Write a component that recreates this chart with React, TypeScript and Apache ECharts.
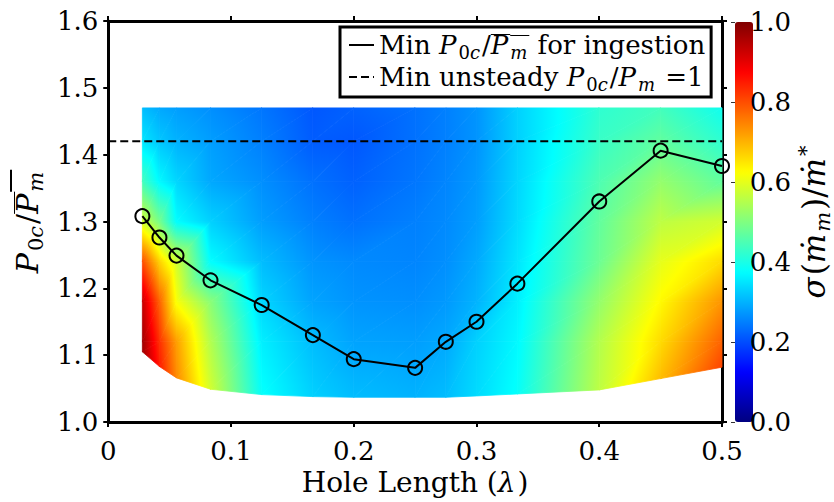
import React, { useEffect, useRef } from 'react';
import * as echarts from 'echarts';

// ---------- data ----------
const holeLength = [0.0278, 0.0417, 0.0556, 0.0833, 0.125, 0.1667, 0.2, 0.25, 0.275, 0.3, 0.3333, 0.4, 0.45, 0.5];
const minRatioIngestion = [1.308, 1.276, 1.249, 1.212, 1.175, 1.13, 1.094, 1.081, 1.12, 1.15, 1.207, 1.33, 1.406, 1.383];
const unsteadyThreshold = 1.42;
const xRange = [0, 0.5];

// lower edge of the measured field, per hole length
const fieldBottom = [1.105, 1.083, 1.066, 1.049, 1.041, 1.038, 1.037, 1.037, 1.037, 1.039, 1.042, 1.048, 1.065, 1.082];
// fixed P0c/Pm rows above the lower edge
const fieldRows = [1.12, 1.18, 1.24, 1.3, 1.36, 1.42, 1.47];
// sigma(m_dot)/m* ; rows: lower edge, then fieldRows ; columns: holeLength
const sigmaBottom = [0.97, 0.85, 0.74, 0.58, 0.38, 0.33, 0.31, 0.3, 0.31, 0.34, 0.38, 0.56, 0.69, 0.81];
const sigma112 = [0.97, 0.83, 0.72, 0.55, 0.36, 0.31, 0.285, 0.28, 0.29, 0.33, 0.37, 0.55, 0.66, 0.78];
const sigma118 = [0.93, 0.78, 0.62, 0.51, 0.335, 0.285, 0.27, 0.265, 0.275, 0.3, 0.36, 0.52, 0.63, 0.73];
const sigma124 = [0.8, 0.67, 0.58, 0.375, 0.31, 0.27, 0.26, 0.255, 0.265, 0.29, 0.35, 0.48, 0.6, 0.66];
const sigma130 = [0.58, 0.49, 0.375, 0.33, 0.28, 0.25, 0.235, 0.25, 0.26, 0.28, 0.34, 0.47, 0.56, 0.58];
const sigma136 = [0.44, 0.37, 0.335, 0.29, 0.265, 0.235, 0.22, 0.24, 0.255, 0.275, 0.335, 0.45, 0.52, 0.47];
const sigma142 = [0.35, 0.32, 0.3, 0.28, 0.25, 0.215, 0.21, 0.235, 0.25, 0.27, 0.33, 0.43, 0.47, 0.42];
const sigma147 = [0.31, 0.29, 0.28, 0.265, 0.24, 0.21, 0.22, 0.235, 0.25, 0.27, 0.33, 0.42, 0.44, 0.39];
const sigmaField = [sigmaBottom, sigma112, sigma118, sigma124, sigma130, sigma136, sigma142, sigma147];

// ---------- styling ----------
const FONT = 'DejaVu Serif';
const JET = ['#000080', '#0000ff', '#0080ff', '#00ffff', '#80ff80', '#ffff00', '#ff8000', '#ff0000', '#800000'];

function hexToRgb(h: string) {
  return [parseInt(h.slice(1, 3), 16), parseInt(h.slice(3, 5), 16), parseInt(h.slice(5, 7), 16)];
}
const JET_RGB = JET.map(hexToRgb);
function jetColor(v: number) {
  const s = Math.max(0, Math.min(1, v)) * 8;
  const i = Math.min(7, Math.floor(s));
  const f = s - i;
  const a = JET_RGB[i], b = JET_RGB[i + 1];
  const c = a.map((x, k) => Math.round(x + (b[k] - x) * f));
  return `rgb(${c[0]},${c[1]},${c[2]})`;
}

function triFill(p: number[][], v: number[]) {
  const vmin = Math.min(...v), vmax = Math.max(...v);
  if (vmax - vmin < 1e-4) return jetColor((vmin + vmax) / 2);
  const ax = p[1][0] - p[0][0], ay = p[1][1] - p[0][1];
  const bx = p[2][0] - p[0][0], by = p[2][1] - p[0][1];
  const dv1 = v[1] - v[0], dv2 = v[2] - v[0];
  const det = ax * by - ay * bx;
  if (Math.abs(det) < 1e-6) return jetColor((vmin + vmax) / 2);
  const gx = (dv1 * by - ay * dv2) / det;
  const gy = (ax * dv2 - dv1 * bx) / det;
  const g2 = gx * gx + gy * gy;
  const sx = p[0][0] + (gx * (vmin - v[0])) / g2;
  const sy = p[0][1] + (gy * (vmin - v[0])) / g2;
  const ex = p[0][0] + (gx * (vmax - v[0])) / g2;
  const ey = p[0][1] + (gy * (vmax - v[0])) / g2;
  const stops: { offset: number; color: string }[] = [{ offset: 0, color: jetColor(vmin) }];
  for (let k = 1; k < 8; k++) {
    const t = k / 8;
    if (t > vmin && t < vmax) stops.push({ offset: (t - vmin) / (vmax - vmin), color: JET[k] });
  }
  stops.push({ offset: 1, color: jetColor(vmax) });
  return new echarts.graphic.LinearGradient(sx, sy, ex, ey, stops, true);
}

const nCols = holeLength.length;
const nRows = sigmaField.length;
const nodeY = (r: number, c: number) => (r === 0 ? fieldBottom[c] : fieldRows[r - 1]);
const fieldData: number[][] = [];
for (let r = 0; r < nRows; r++) for (let c = 0; c < nCols; c++) fieldData.push([holeLength[c], nodeY(r, c), sigmaField[r][c]]);

const NAME_ING = 'Min P0c/Pm for ingestion';
const NAME_UNS = 'Min unsteady P0c/Pm=1';

// overline drawn as a thin dark band at the top of a token's box
function overlineBg(lh: number) {
  const a = 2 / lh, b = 3.8 / lh;
  return {
    type: 'linear', x: 0, y: 0, x2: 0, y2: 1,
    colorStops: [
      { offset: 0, color: 'rgba(0,0,0,0)' },
      { offset: a, color: 'rgba(0,0,0,0)' },
      { offset: a, color: '#000' },
      { offset: b, color: '#000' },
      { offset: b, color: 'rgba(0,0,0,0)' },
      { offset: 1, color: 'rgba(0,0,0,0)' },
    ],
  };
}

function makeRich(size: number, sub: number, lh: number, subLh: number) {
  return {
    t: { fontFamily: FONT, fontSize: size, lineHeight: lh, color: '#000' },
    i: { fontFamily: FONT, fontSize: size, lineHeight: lh, fontStyle: 'italic', color: '#000', padding: [0, 2, 0, 0] },
    io: {
      fontFamily: FONT, fontSize: size, lineHeight: lh, fontStyle: 'italic', color: '#000',
      padding: [0, 2, 0, 0], backgroundColor: overlineBg(lh),
    },
    s: { fontFamily: FONT, fontSize: sub, lineHeight: subLh, verticalAlign: 'bottom', color: '#000' },
    si: { fontFamily: FONT, fontSize: sub, lineHeight: subLh, verticalAlign: 'bottom', fontStyle: 'italic', color: '#000', padding: [0, 2, 0, 0] },
    sio: {
      fontFamily: FONT, fontSize: sub, lineHeight: subLh, verticalAlign: 'bottom', fontStyle: 'italic', color: '#000',
      padding: [lh - subLh, 2, 0, 0], backgroundColor: overlineBg(lh),
    },
    sup: { fontFamily: FONT, fontSize: sub, lineHeight: sub, verticalAlign: 'top', color: '#000' },
  };
}
const richLegend = makeRich(26, 18, 32, 22);
const richAxis = makeRich(28, 19, 34, 19);
const richCbar = makeRich(31, 21, 38, 21);
const richYName = makeRich(30, 21, 38, 21);

const axisLine = { show: true, onZero: false, lineStyle: { color: '#000', width: 3 } };
const axisTick = { show: true, inside: false, length: 5, lineStyle: { color: '#000', width: 2 } };
const tickFont = { fontFamily: FONT, fontSize: 26, color: '#000' };

const option: any = {
  animation: false,
  backgroundColor: '#fff',
  grid: [
    { left: 107, right: 112, top: 21, bottom: 80 },
    { left: 735, width: 18, top: 22, height: 400 },
  ],
  xAxis: [
    {
      gridIndex: 0, type: 'value', min: xRange[0], max: xRange[1], interval: 0.1, position: 'bottom',
      axisLine, axisTick, splitLine: { show: false },
      axisLabel: { ...tickFont, margin: 16 },
      name: '{t|Hole Length (}{i|λ}{t|)}', nameLocation: 'middle', nameGap: 39,
      nameTextStyle: { rich: richAxis },
    },
    {
      gridIndex: 0, type: 'value', min: xRange[0], max: xRange[1], interval: 0.1, position: 'top',
      axisLine, axisTick, splitLine: { show: false }, axisLabel: { show: false },
    },
    { gridIndex: 1, type: 'value', min: 0, max: 1, show: false },
  ],
  yAxis: [
    {
      gridIndex: 0, type: 'value', min: 1, max: 1.6, interval: 0.1, position: 'left',
      axisLine, axisTick, splitLine: { show: false },
      axisLabel: { ...tickFont, margin: 10, formatter: (v: number) => v.toFixed(1) },
      name: '{i|P}{s|0}{si|c}{t|/}{io|P}{sio|m}', nameLocation: 'middle', nameRotate: 90, nameGap: 58,
      nameTextStyle: { rich: richYName },
    },
    {
      gridIndex: 0, type: 'value', min: 1, max: 1.6, interval: 0.1, position: 'right',
      axisLine, axisTick, splitLine: { show: false }, axisLabel: { show: false },
    },
    {
      gridIndex: 1, type: 'value', min: 0, max: 1, interval: 0.2, position: 'right', z: 10,
      axisLine: { show: false },
      axisTick: { show: true, inside: true, length: 4, lineStyle: { color: '#333', width: 1 } },
      splitLine: { show: false },
      axisLabel: { ...tickFont, margin: 3, formatter: (v: number) => v.toFixed(1) },
      name: '{i|σ}{t|(}{i|ṁ}{si|m}{t|)/}{i|ṁ}{sup|*}', nameLocation: 'middle', nameRotate: 90, nameGap: 45,
      nameTextStyle: { rich: richCbar },
    },
  ],
  visualMap: {
    type: 'continuous', min: 0, max: 1, seriesIndex: 0, dimension: 2,
    left: 730, top: 17, padding: 5, itemWidth: 18, itemHeight: 400,
    calculable: false, hoverLink: false, inRange: { color: JET },
    textStyle: { color: 'transparent' },
  },
  legend: {
    show: true, orient: 'vertical', left: 340, top: 27,
    padding: [5, 6, 4, 8], itemGap: 3, itemWidth: 25, itemHeight: 14,
    borderColor: '#000', borderWidth: 3, backgroundColor: '#fff',
    itemStyle: { color: 'transparent', borderColor: 'transparent', borderWidth: 0 },
    selectedMode: false,
    data: [NAME_ING, NAME_UNS],
    formatter: (n: string) =>
      n === NAME_ING
        ? '{t|Min }{i|P}{s|0}{si|c}{t|/}{io|P}{sio|m}{t| for ingestion}'
        : '{t|Min unsteady }{i|P}{s|0}{si|c}{t|/}{i|P}{si|m}{t| =1}',
    textStyle: { fontFamily: FONT, fontSize: 26, color: '#000', rich: richLegend },
  },
  series: [
    {
      type: 'custom', xAxisIndex: 0, yAxisIndex: 0, silent: true, clip: false,
      encode: { x: 0, y: 1 },
      data: fieldData,
      renderItem: (params: any, api: any) => {
        const idx = params.dataIndex;
        const c = idx % nCols, r = Math.floor(idx / nCols);
        if (c >= nCols - 1 || r >= nRows - 1) return null;
        const corners = [[r, c], [r, c + 1], [r + 1, c + 1], [r + 1, c]];
        const pts = corners.map(([rr, cc]) => api.coord([holeLength[cc], nodeY(rr, cc)]));
        const vals = corners.map(([rr, cc]) => sigmaField[rr][cc]);
        const tri = (a: number, b: number, d: number) => {
          const p = [pts[a], pts[b], pts[d]];
          const v = [vals[a], vals[b], vals[d]];
          return {
            type: 'polygon',
            shape: { points: p },
            style: { fill: triFill(p, v), stroke: triFill(p, v), lineWidth: 0.8 },
          };
        };
        return { type: 'group', children: [tri(0, 1, 2), tri(0, 2, 3)] };
      },
    },
    {
      name: NAME_UNS, type: 'line', xAxisIndex: 0, yAxisIndex: 0, symbol: 'none',
      data: xRange.map((x) => [x, unsteadyThreshold]),
      lineStyle: { color: '#000', width: 2, type: [8, 4] },
      itemStyle: { color: '#000' },
    },
    {
      name: NAME_ING, type: 'line', xAxisIndex: 0, yAxisIndex: 0,
      data: holeLength.map((x, i) => [x, minRatioIngestion[i]]),
      symbol: 'circle', symbolSize: 14,
      lineStyle: { color: '#000', width: 2 },
      itemStyle: { color: 'rgba(0,0,0,0)', borderColor: '#000', borderWidth: 2 },
    },
  ],
};

export default function App() {
  const ref = useRef<HTMLDivElement>(null);
  useEffect(() => {
    const chart = echarts.init(ref.current!, null, { renderer: 'svg' });
    chart.setOption(option);
    return () => chart.dispose();
  }, []);
  return (
    <div
      ref={ref}
      style={{ position: 'absolute', left: 0, top: 0, width: 834, height: 502, background: '#fff' }}
    />
  );
}
